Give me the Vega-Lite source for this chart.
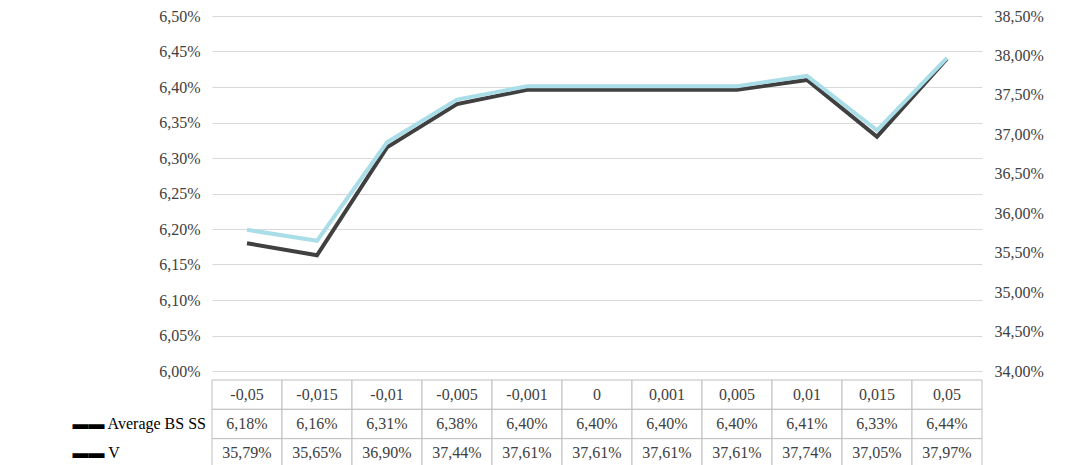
{
  "$schema": "https://vega.github.io/schema/vega-lite/v6.json",
  "background": "#ffffff",
  "padding": {"left": 72, "top": 8, "right": 5, "bottom": 0},
  "spacing": 0,
  "config": {
    "locale": {"number": {"decimal": ",", "thousands": ".", "grouping": [3], "currency": ["", " €"]}},
    "font": "Liberation Serif",
    "axis": {"labelFont": "Liberation Serif", "labelFontSize": 16, "labelColor": "#404040", "titleFont": "Liberation Serif"},
    "view": {"stroke": null}
  },
  "datasets": {
    "series": [
      {"x": "-0,05", "avg": 0.0618, "v": 0.3579},
      {"x": "-0,015", "avg": 0.06163, "v": 0.3565},
      {"x": "-0,01", "avg": 0.06315, "v": 0.3690},
      {"x": "-0,005", "avg": 0.06376, "v": 0.3744},
      {"x": "-0,001", "avg": 0.06396, "v": 0.3761},
      {"x": "0", "avg": 0.06396, "v": 0.3761},
      {"x": "0,001", "avg": 0.06396, "v": 0.3761},
      {"x": "0,005", "avg": 0.06396, "v": 0.3761},
      {"x": "0,01", "avg": 0.0641, "v": 0.3774},
      {"x": "0,015", "avg": 0.0633, "v": 0.3705},
      {"x": "0,05", "avg": 0.0644, "v": 0.3797}
    ],
    "table": [
      {"x": "-0,05", "row": "h", "t": "-0,05"}, {"x": "-0,015", "row": "h", "t": "-0,015"}, {"x": "-0,01", "row": "h", "t": "-0,01"}, {"x": "-0,005", "row": "h", "t": "-0,005"}, {"x": "-0,001", "row": "h", "t": "-0,001"}, {"x": "0", "row": "h", "t": "0"}, {"x": "0,001", "row": "h", "t": "0,001"}, {"x": "0,005", "row": "h", "t": "0,005"}, {"x": "0,01", "row": "h", "t": "0,01"}, {"x": "0,015", "row": "h", "t": "0,015"}, {"x": "0,05", "row": "h", "t": "0,05"},
      {"x": "-0,05", "row": "a", "t": "6,18%"}, {"x": "-0,015", "row": "a", "t": "6,16%"}, {"x": "-0,01", "row": "a", "t": "6,31%"}, {"x": "-0,005", "row": "a", "t": "6,38%"}, {"x": "-0,001", "row": "a", "t": "6,40%"}, {"x": "0", "row": "a", "t": "6,40%"}, {"x": "0,001", "row": "a", "t": "6,40%"}, {"x": "0,005", "row": "a", "t": "6,40%"}, {"x": "0,01", "row": "a", "t": "6,41%"}, {"x": "0,015", "row": "a", "t": "6,33%"}, {"x": "0,05", "row": "a", "t": "6,44%"},
      {"x": "-0,05", "row": "v", "t": "35,79%"}, {"x": "-0,015", "row": "v", "t": "35,65%"}, {"x": "-0,01", "row": "v", "t": "36,90%"}, {"x": "-0,005", "row": "v", "t": "37,44%"}, {"x": "-0,001", "row": "v", "t": "37,61%"}, {"x": "0", "row": "v", "t": "37,61%"}, {"x": "0,001", "row": "v", "t": "37,61%"}, {"x": "0,005", "row": "v", "t": "37,61%"}, {"x": "0,01", "row": "v", "t": "37,74%"}, {"x": "0,015", "row": "v", "t": "37,05%"}, {"x": "0,05", "row": "v", "t": "37,97%"}
    ]
  },
  "vconcat": [
    {
      "width": 770,
      "height": 355,
      "data": {"name": "series"},
      "encoding": {
        "x": {"field": "x", "type": "ordinal", "sort": null, "axis": null, "scale": {"type": "point", "padding": 0.5}}
      },
      "layer": [
        {
          "mark": {"type": "line", "color": "#404040", "strokeWidth": 4},
          "encoding": {
            "y": {"field": "avg", "type": "quantitative", "scale": {"domain": [0.06, 0.065], "nice": false},
              "axis": {"title": null, "format": ".2%", "values": [0.06, 0.0605, 0.061, 0.0615, 0.062, 0.0625, 0.063, 0.0635, 0.064, 0.0645, 0.065], "grid": true, "gridColor": "#d9d9d9", "domain": false, "ticks": false, "labelPadding": 12}}
          }
        },
        {
          "mark": {"type": "line", "color": "#a9dde8", "strokeWidth": 4},
          "encoding": {
            "y": {"field": "v", "type": "quantitative", "scale": {"domain": [0.34, 0.385], "nice": false},
              "axis": {"title": null, "orient": "right", "format": ".2%", "values": [0.34, 0.345, 0.35, 0.355, 0.36, 0.365, 0.37, 0.375, 0.38, 0.385], "grid": false, "domain": false, "ticks": false, "labelPadding": 12}}
          }
        }
      ],
      "resolve": {"scale": {"y": "independent"}}
    },
    {
      "width": 770,
      "height": 88,
      "data": {"name": "table"},
      "encoding": {
        "x": {"field": "x", "type": "ordinal", "sort": null, "axis": null, "scale": {"paddingInner": 0, "paddingOuter": 0}},
        "y": {"field": "row", "type": "ordinal", "sort": ["h", "a", "v"], "scale": {"paddingInner": 0, "paddingOuter": 0},
          "axis": {"title": null, "domain": false, "ticks": false, "labelPadding": 140, "labelAlign": "left", "labelColor": "#000000",
            "labelExpr": "datum.value == 'a' ? '▬▬ Average BS SS' : datum.value == 'v' ? '▬▬ V' : ''"}}
      },
      "layer": [
        {"mark": {"type": "rect", "fill": "#ffffff", "stroke": "#bfbfbf", "strokeWidth": 1}},
        {"mark": {"type": "text", "font": "Liberation Serif", "fontSize": 16, "color": "#404040"}, "encoding": {"text": {"field": "t"}}}
      ]
    }
  ]
}
